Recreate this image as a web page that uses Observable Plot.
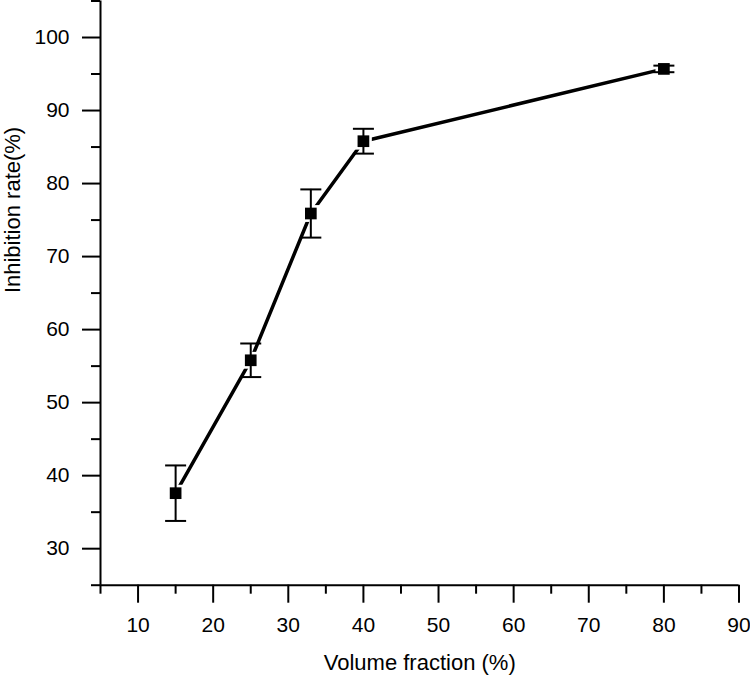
<!DOCTYPE html>
<html>
<head>
<meta charset="utf-8">
<script src="https://cdn.jsdelivr.net/npm/d3@7"></script>
<script src="https://cdn.jsdelivr.net/npm/@observablehq/plot@0.6"></script>
<style>
  html, body { margin: 0; padding: 0; background: #fff; }
  #chart svg g[aria-label="x-axis tick"],
  #chart svg g[aria-label="y-axis tick"] { stroke-width: 2px !important; }
  #chart svg g[aria-label="x-axis tick"] path,
  #chart svg g[aria-label="y-axis tick"] path { stroke-width: 2px !important; }
</style>
</head>
<body>
<div id="chart"></div>
<script>
const volumeFraction = [15, 25, 33, 40, 80];
const inhibitionRate = [37.6, 55.8, 75.9, 85.8, 95.7];
const errorValue = [3.8, 2.3, 3.3, 1.7, 0.45];
const xMajorTicks = [10, 20, 30, 40, 50, 60, 70, 80, 90];
const xMinorTicks = [5, 15, 25, 35, 45, 55, 65, 75, 85];
const yMajorTicks = [30, 40, 50, 60, 70, 80, 90, 100];
const yMinorTicks = [25, 35, 45, 55, 65, 75, 85, 95, 105];
const xTitle = "Volume fraction (%)";
const yTitle = "Inhibition rate(%)";

const data = volumeFraction.map((x, i) => ({
  x, y: inhibitionRate[i], lo: inhibitionRate[i] - errorValue[i], hi: inhibitionRate[i] + errorValue[i]
}));

const capSymbol = {
  draw(context) {
    context.moveTo(-10.5, 0);
    context.lineTo(10.5, 0);
  }
};

const chart = Plot.plot({
  width: 750,
  height: 679,
  marginLeft: 100,
  marginRight: 11.5,
  marginTop: 0.5,
  marginBottom: 94.3,
  style: { fontFamily: "'Liberation Sans', Arial, sans-serif", fontSize: "21px", color: "#000", background: "#fff" },
  x: { domain: [5, 90], label: null },
  y: { domain: [25, 105], label: null },
  marks: [
    Plot.axisX({ ticks: xMinorTicks, tickSize: 9, tickFormat: () => "", strokeWidth: 2, label: null }),
    Plot.axisX({ ticks: xMajorTicks, tickSize: 18, tickPadding: 14, strokeWidth: 2, label: null, fontSize: 21 }),
    Plot.axisY({ ticks: yMinorTicks, tickSize: 9, tickFormat: () => "", strokeWidth: 2, label: null }),
    Plot.axisY({ ticks: yMajorTicks, tickSize: 18, tickPadding: 13, strokeWidth: 2, label: null, fontSize: 21 }),
    Plot.ruleX([5], { strokeWidth: 2 }),
    Plot.ruleY([25], { strokeWidth: 2 }),
    Plot.line(data, { x: "x", y: "y", stroke: "#000", strokeWidth: 3.5 }),
    Plot.dot(data, { x: "x", y: "y", symbol: "square", r: 9.5, fill: "#fff", stroke: "none" }),
    Plot.ruleX(data, { x: "x", y1: "lo", y2: "hi", stroke: "#000", strokeWidth: 2 }),
    Plot.dot(data, { x: "x", y: "hi", symbol: capSymbol, r: 5, stroke: "#000", strokeWidth: 2, fill: "none" }),
    Plot.dot(data, { x: "x", y: "lo", symbol: capSymbol, r: 5, stroke: "#000", strokeWidth: 2, fill: "none" }),
    Plot.dot(data, { x: "x", y: "y", symbol: "square", r: 6.6, fill: "#000", stroke: "none" }),
    Plot.text([xTitle], { frameAnchor: "bottom", dy: 78, lineAnchor: "middle", fontSize: 22, fill: "#000" }),
    Plot.text([yTitle], { frameAnchor: "left", dx: -88, rotate: -90, lineAnchor: "middle", fontSize: 22, fill: "#000" })
  ]
});
document.getElementById("chart").appendChild(chart);
</script>
</body>
</html>
